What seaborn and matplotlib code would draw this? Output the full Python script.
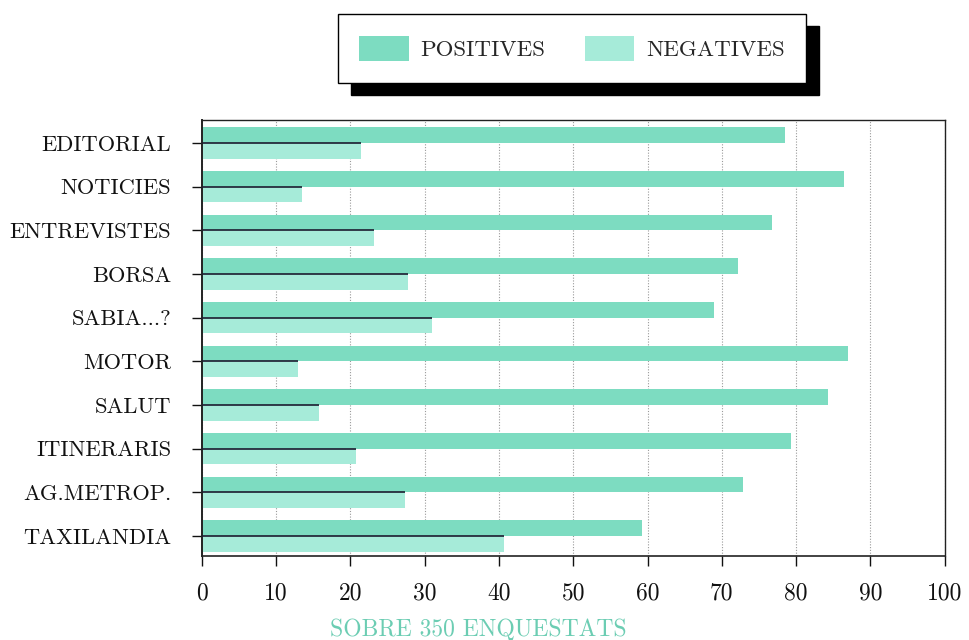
import matplotlib
matplotlib.use('Agg')
import matplotlib.pyplot as plt
from matplotlib.patches import Patch
import seaborn as sns
import pandas as pd

categories = ["EDITORIAL", "NOTICIES", "ENTREVISTES", "BORSA", "SABIA...?",
              "MOTOR", "SALUT", "ITINERARIS", "AG.METROP.", "TAXILANDIA"]
positives = [78.5, 86.4, 76.8, 72.2, 68.9, 87.0, 84.3, 79.3, 72.9, 59.3]
negatives = [21.4, 13.5, 23.2, 27.8, 31.0, 13.0, 15.8, 20.8, 27.3, 40.7]
series = ["POSITIVES", "NEGATIVES"]
xticks = list(range(0, 101, 10))
xlabel = "SOBRE 350 ENQUESTATS"

pos_color = "#7ddcc1"
neg_color = "#a6ebd9"
label_color = "#6ccdb3"

df = pd.DataFrame({
    "cat": categories * 2,
    "val": positives + negatives,
    "serie": [series[0]] * len(categories) + [series[1]] * len(categories),
})

sns.set_style("white")
plt.rcParams['font.family'] = ['cmr10', 'DejaVu Serif']
plt.rcParams['axes.formatter.use_mathtext'] = True

fig = plt.figure(figsize=(9.7, 6.4), dpi=100)
ax = fig.add_axes([0.208, 0.131, 0.766, 0.681])

sns.barplot(data=df, y="cat", x="val", hue="serie", order=categories,
            hue_order=series, palette=[pos_color, neg_color], orient="h",
            width=0.72, dodge=True, saturation=1, legend=False, ax=ax,
            linewidth=0, zorder=2)

ax.hlines(range(len(categories)), 0, negatives, color="#1c1c30", lw=1.2, zorder=3)

ax.set_xlim(0, 100)
ax.set_ylim(len(categories) - 0.54, -0.52)
ax.set_xticks(xticks)
ax.set_xticklabels([str(t) for t in xticks])
ax.set_ylabel("")
ax.set_xlabel(xlabel, color=label_color, fontsize=17, va='center')
ax.xaxis.set_label_coords(0.372, -0.168)

ax.set_axisbelow(True)
ax.xaxis.grid(True, linestyle=(0, (1, 1.5)), color="#9a9a9a", lw=0.8)
ax.yaxis.grid(False)

for s in ax.spines.values():
    s.set_visible(True)
    s.set_color("#222222")
    s.set_linewidth(1.0)
ax.spines['left'].set_linewidth(1.4)
ax.spines['bottom'].set_linewidth(1.2)

ax.tick_params(axis='x', direction='out', length=7, width=1, pad=12,
               labelsize=17, colors="#111111", bottom=True)
ax.tick_params(axis='y', direction='out', length=7, width=1, pad=15,
               labelsize=16.2, colors="#111111", left=True)

handles = [Patch(facecolor=pos_color, edgecolor='none'),
           Patch(facecolor=neg_color, edgecolor='none')]
leg = fig.legend(handles, series, loc='center', bbox_to_anchor=(0.5897, 0.924),
                 ncol=2, fontsize=16.5, frameon=True, fancybox=False,
                 edgecolor='black', framealpha=1, handlelength=2.15,
                 handleheight=1.3, handletextpad=0.5, columnspacing=1.75,
                 borderpad=0.95,
                 shadow={'color': 'black', 'alpha': 1, 'ox': 9.4, 'oy': -8.6})
leg.get_frame().set_linewidth(1.0)

fig.savefig("out.png", dpi=100)
